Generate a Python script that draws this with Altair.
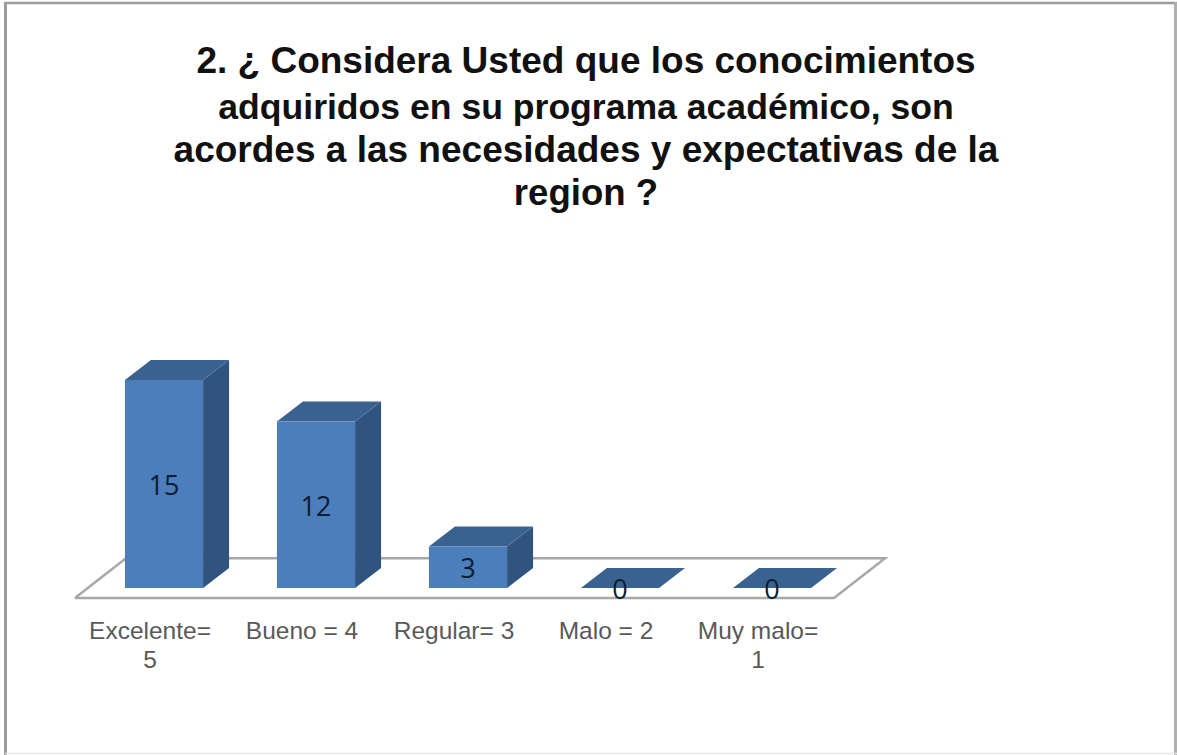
import altair as alt
import pandas as pd

# Survey results
categories = ["Excelente=\n5", "Bueno = 4", "Regular= 3", "Malo = 2", "Muy malo=\n1"]
responses = [15, 12, 3, 0, 0]
title_lines = [
    "2. ¿ Considera Usted que los conocimientos",
    "adquiridos en su programa académico, son",
    "acordes a las necesidades y expectativas de la",
    "region ?",
]

W, H = 1177, 755

# Category slots are 152 px apart; one response is about 13.87 px tall.
SLOT_PX, UNIT_PX = 152.0, 13.87
FIRST_SLOT_PX, BASE_PX = 164.0, 588.0
x_scale = alt.Scale(domain=[-FIRST_SLOT_PX / SLOT_PX, (W - FIRST_SLOT_PX) / SLOT_PX], range=[0, W], nice=False, zero=False)
y_scale = alt.Scale(domain=[(BASE_PX - H) / UNIT_PX, BASE_PX / UNIT_PX], range=[H, 0], nice=False, zero=False)

# Box proportions, in slot and response units
HALF = 0.257          # half of the front face width
DX, DY = 0.171, 1.44  # oblique depth of each box

# Floor plate corners, traced in order
FLOOR_LEFT, FLOOR_RIGHT = -0.586, 4.408
FLOOR_FRONT, FLOOR_BACK = -0.72, 2.14
FLOOR_SHIFT = 0.336

front, top, side = [], [], []
for i, v in enumerate(responses):
    l, r = i - HALF, i + HALF
    front.append(dict(bar=i, x=l, x2=r, y=0, y2=v, label=str(v), mid=v / 2))
    top.append(dict(bar=i, y=v, x=l, x2=r))
    top.append(dict(bar=i, y=v + DY, x=l + DX, x2=r + DX))
    side.append(dict(bar=i, x=r, y=0, y2=v))
    side.append(dict(bar=i, x=r + DX, y=DY, y2=v + DY))

floor = pd.DataFrame(
    [
        dict(o=0, x=FLOOR_LEFT, y=FLOOR_FRONT),
        dict(o=1, x=FLOOR_RIGHT, y=FLOOR_FRONT),
        dict(o=2, x=FLOOR_RIGHT + FLOOR_SHIFT, y=FLOOR_BACK),
        dict(o=3, x=FLOOR_LEFT + FLOOR_SHIFT, y=FLOOR_BACK),
        dict(o=4, x=FLOOR_LEFT, y=FLOOR_FRONT),
    ]
)
front_df, top_df, side_df = pd.DataFrame(front), pd.DataFrame(top), pd.DataFrame(side)
cat_df = pd.DataFrame(dict(i=range(len(categories)), name=categories))

X = alt.X("x:Q", scale=x_scale, axis=None)
Y = alt.Y("y:Q", scale=y_scale, axis=None)

floor_layer = (
    alt.Chart(floor)
    .mark_line(color="#a8a8a8", strokeWidth=2.5, strokeJoin="miter")
    .encode(X, Y, order="o:Q")
)
front_layer = (
    alt.Chart(front_df)
    .mark_bar(color="#4c7ebb")
    .encode(X, alt.X2("x2"), Y, alt.Y2("y2"))
)
top_layer = (
    alt.Chart(top_df)
    .mark_area(orient="horizontal", color="#3a6291", opacity=1)
    .encode(X, alt.X2("x2"), Y, detail="bar:N")
)
side_layer = (
    alt.Chart(side_df)
    .mark_area(orient="vertical", color="#30547f", opacity=1)
    .encode(X, Y, alt.Y2("y2"), detail="bar:N")
)
value_labels = (
    alt.Chart(front_df)
    .mark_text(font="Open Sans", fontSize=27, color="#0d1d33", baseline="middle", dy=3)
    .encode(
        x=alt.X("bar:Q", scale=x_scale, axis=None),
        y=alt.Y("mid:Q", scale=y_scale, axis=None),
        text="label:N",
    )
)
cat_labels = (
    alt.Chart(cat_df)
    .mark_text(
        font="Liberation Sans", fontSize=24.5, color="#595959", align="center",
        baseline="alphabetic", lineBreak="\n", lineHeight=29, dx=-14,
    )
    .encode(
        x=alt.X("i:Q", scale=x_scale, axis=None),
        y=alt.value(639),
        text="name:N",
    )
)

# Title lines are set one by one; the second runs slightly tighter.
title_layers = [
    alt.Chart(pd.DataFrame(dict(t=[line])))
    .mark_text(
        font="Liberation Sans", fontSize=size, fontWeight="bold", color="#111111",
        align="center", baseline="alphabetic",
    )
    .encode(x=alt.value(586), y=alt.value(base), text="t:N")
    for line, base, size in zip(title_lines, [73, 119, 162, 205], [37, 35.6, 37, 36.6])
]

# Grey slide frame
frame = [
    alt.Chart(pd.DataFrame({"a": [0]})).mark_rule(color=c, strokeWidth=w).encode(
        x=alt.value(x0), x2=alt.value(x1), y=alt.value(y0), y2=alt.value(y1)
    )
    for c, w, x0, x1, y0, y1 in [
        ("#9c9c9c", 3, 5.5, 5.5, 2, H),
        ("#9c9c9c", 2.5, 4, W, 3, 3),
        ("#b0b0b0", 3, 1175.5, 1175.5, 2, H),
        ("#e6e6e6", 1.5, 5, W, 753.5, 753.5),
    ]
]

chart = (
    alt.layer(floor_layer, side_layer, top_layer, front_layer, value_labels, cat_labels, *title_layers, *frame)
    .properties(width=W, height=H, padding=0, autosize=alt.AutoSizeParams(type="none"), background="white")
    .configure_view(stroke=None)
)

chart.save("out.html", embed_options={"renderer": "svg", "actions": False})
